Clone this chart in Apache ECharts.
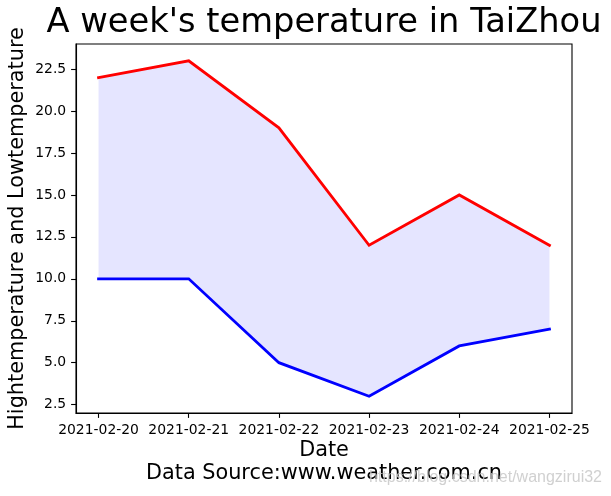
<!DOCTYPE html>
<html>
<head>
<meta charset="utf-8">
<script src="https://cdn.jsdelivr.net/npm/echarts@6/dist/echarts.min.js"></script>
<style>
html,body{margin:0;padding:0;background:#fff;}
#chart{width:611px;height:496px;}
</style>
</head>
<body>
<div id="chart"></div>
<script>
const dates = ['2021-02-20','2021-02-21','2021-02-22','2021-02-23','2021-02-24','2021-02-25'];
const highTemps = [22, 23, 19, 12, 15, 12];
const lowTemps = [10, 10, 5, 3, 6, 7];
const yTicks = [2.5, 5.0, 7.5, 10.0, 12.5, 15.0, 17.5, 20.0, 22.5];
const xTicks = [0, 1, 2, 3, 4, 5];

const FONT = 'DejaVu Sans';
const chart = echarts.init(document.getElementById('chart'), null, {renderer: 'canvas'});

const G = {left: 76, right: 39, top: 44, bottom: 83};
const cx = G.left + (611 - G.left - G.right) / 2;

const option = {
  animation: false,
  backgroundColor: '#fff',
  grid: {left: G.left, right: G.right, top: G.top, bottom: G.bottom, show: true,
         borderColor: '#000', borderWidth: 1.1, backgroundColor: 'transparent', containLabel: false},
  xAxis: {
    type: 'value', min: -0.25, max: 5.25,
    splitLine: {show: false},
    axisLine: {show: true, onZero: false, lineStyle: {color: '#000', width: 1.1}},
    axisTick: {show: true, length: 4.9, lineStyle: {color: '#000', width: 1.1}, customValues: xTicks},
    axisLabel: {customValues: xTicks, color: '#000', fontFamily: FONT, fontSize: 13.9, margin: 10,
                formatter: v => dates[Math.round(v)]}
  },
  yAxis: {
    type: 'value', min: 2, max: 24,
    splitLine: {show: false},
    axisLine: {show: true, onZero: false, lineStyle: {color: '#000', width: 1.1}},
    axisTick: {show: true, length: 4.9, lineStyle: {color: '#000', width: 1.1}, customValues: yTicks},
    axisLabel: {customValues: yTicks, color: '#000', fontFamily: FONT, fontSize: 13.9, margin: 9.8,
                formatter: v => v.toFixed(1)}
  },
  series: [
    {
      type: 'custom', name: 'band', z: 1, silent: true,
      data: dates.map((d, i) => [i, highTemps[i], lowTemps[i]]),
      encode: {x: 0, y: [1, 2]},
      renderItem: function (params, api) {
        if (params.dataIndex !== 0) return null;
        const pts = [];
        for (let i = 0; i < dates.length; i++) pts.push(api.coord([i, highTemps[i]]));
        for (let i = dates.length - 1; i >= 0; i--) pts.push(api.coord([i, lowTemps[i]]));
        return {type: 'polygon', shape: {points: pts}, style: {fill: '#e5e5ff', stroke: null}};
      }
    },
    {
      type: 'line', name: 'high', z: 3, symbol: 'none', silent: true,
      data: highTemps.map((v, i) => [i, v]),
      lineStyle: {color: '#ff0000', width: 2.8, cap: 'square', join: 'miter'}
    },
    {
      type: 'line', name: 'low', z: 3, symbol: 'none', silent: true,
      data: lowTemps.map((v, i) => [i, v]),
      lineStyle: {color: '#0000ff', width: 2.8, cap: 'square', join: 'miter'}
    }
  ],
  graphic: [
    {type: 'text', x: cx, y: 23.5, style: {text: "A week's temperature in TaiZhou", fontFamily: FONT,
      fontSize: 33.7, fill: '#000', align: 'center', verticalAlign: 'middle'}},
    {type: 'text', x: cx, y: 451, style: {text: 'Date', fontFamily: FONT,
      fontSize: 20.8, fill: '#000', align: 'center', verticalAlign: 'middle'}},
    {type: 'text', x: cx, y: 474, style: {text: 'Data Source:www.weather.com.cn', fontFamily: FONT,
      fontSize: 20.8, fill: '#000', align: 'center', verticalAlign: 'middle'}},
    {type: 'text', x: 17.5, y: G.top + (496 - G.top - G.bottom) / 2, rotation: Math.PI / 2,
      style: {text: 'Hightemperature and Lowtemperature', fontFamily: FONT,
      fontSize: 20.8, fill: '#000', align: 'center', verticalAlign: 'middle'}},
    {type: 'text', x: 602, y: 478, z: 100, style: {text: 'https://blog.csdn.net/wangzirui32', fontFamily: 'Liberation Sans',
      fontSize: 16, fill: 'rgba(200,200,200,0.85)', align: 'right', verticalAlign: 'middle'}}
  ]
};
chart.setOption(option);
</script>
</body>
</html>
